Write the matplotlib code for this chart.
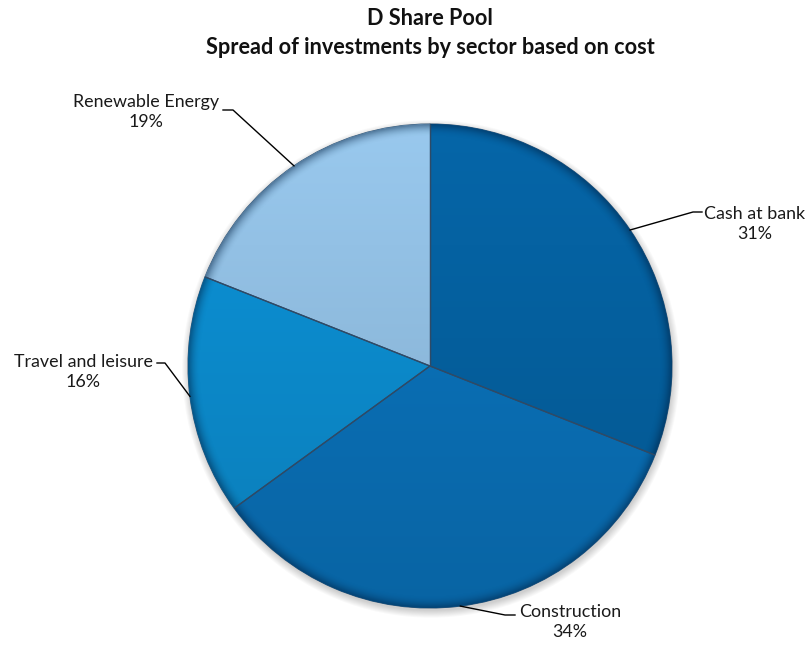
import numpy as np
import matplotlib
matplotlib.use("Agg")
import matplotlib.pyplot as plt
from matplotlib.patches import Circle
from matplotlib.colors import to_rgb

plt.rcParams['font.family'] = ['Lato', 'DejaVu Sans']

sectors = ["Cash at bank", "Construction", "Travel and leisure", "Renewable Energy"]
shares = [31, 34, 16, 19]
colors = ["#0562a2", "#0a72ba", "#0c8ed1", "#93c1e5"]

title = "D Share Pool\nSpread of investments by sector based on cost"

W, H = 811, 645
fig = plt.figure(figsize=(W / 100, H / 100), dpi=100)
fig.patch.set_facecolor("white")

cx, cy, R = 430, 366, 242
ax = fig.add_axes([(cx - R) / W, (H - cy - R) / H, 2 * R / W, 2 * R / H])

# soft drop shadow under the disc
for k in range(8):
    ax.add_patch(Circle((0.004, -0.012), 1.0 + k * 0.004, color="#000000",
                        alpha=0.025, lw=0, zorder=0, clip_on=False))

wedges, _ = ax.pie(shares, colors=colors, startangle=90, counterclock=False,
                   radius=1.0, wedgeprops=dict(linewidth=0.8, edgecolor="#3a5a78"))
for w in wedges:
    w.set_zorder(1)

# vertical shading inside each slice: lighter top, darker bottom
yy = np.linspace(1, -1, 300)[:, None] * np.ones((1, 300))
xx = np.ones((300, 1)) * np.linspace(-1, 1, 300)[None, :]
rr = np.sqrt(xx ** 2 + yy ** 2)
for w, c in zip(wedges, colors):
    base = np.array(to_rgb(c))
    t = (yy + 1) / 2  # 1 at top, 0 at bottom
    fac = 0.88 + 0.16 * t
    img = np.clip(base[None, None, :] * fac[:, :, None], 0, 1)
    im = ax.imshow(img, extent=[-1, 1, -1, 1], zorder=2, interpolation="bilinear")
    im.set_clip_path(w)

# darker rim around the edge of the disc
rim = np.zeros((300, 300, 4))
rim[..., 0:3] = np.array([0.0, 0.12, 0.25])
rim[..., 3] = np.clip((rr - 0.95) / 0.05, 0, 1) ** 2 * 0.45
rim_im = ax.imshow(rim, extent=[-1, 1, -1, 1], zorder=3, interpolation="bilinear")
rim_im.set_clip_path(Circle((0, 0), 1.0, transform=ax.transData))

# slice separators
for w in wedges:
    for ang in (w.theta1, w.theta2):
        a = np.deg2rad(ang)
        ax.plot([0, np.cos(a)], [0, np.sin(a)], color="#2f4a66", lw=0.9, zorder=4,
                solid_capstyle="butt")

ax.set_xlim(-1, 1)
ax.set_ylim(-1, 1)
ax.set_aspect("equal")
ax.axis("off")


def px(x, y):
    return (x - cx) / R, (cy - y) / R


# label placement: (text centre, elbow, line end) in pixel space
label_layout = {
    "Cash at bank": ((755, 224), (693, 212), (702, 212)),
    "Construction": ((570, 622), (505, 615), (515, 615)),
    "Travel and leisure": ((83, 372), (165, 363), (157, 363)),
    "Renewable Energy": ((146, 112), (233, 110), (223, 110)),
}

for w, name, val in zip(wedges, sectors, shares):
    mid = np.deg2rad((w.theta1 + w.theta2) / 2)
    start = (np.cos(mid), np.sin(mid))
    (tx, ty), elbow, end = label_layout[name]
    e = px(*elbow)
    n = px(*end)
    ax.plot([start[0], e[0], n[0]], [start[1], e[1], n[1]], color="black", lw=1.0,
            zorder=6, clip_on=False)
    t = px(tx, ty)
    ax.text(t[0], t[1], f"{name}\n{val}%", ha="center", va="center", fontsize=12.9,
            color="#1a1a1a", linespacing=1.25, zorder=7, clip_on=False)

fig.text(430 / W, 1 - 33 / H, title, ha="center", va="center", fontsize=15.6,
         fontweight="bold", color="#111111", linespacing=1.45)

fig.savefig("out.png", dpi=100, facecolor="white")
